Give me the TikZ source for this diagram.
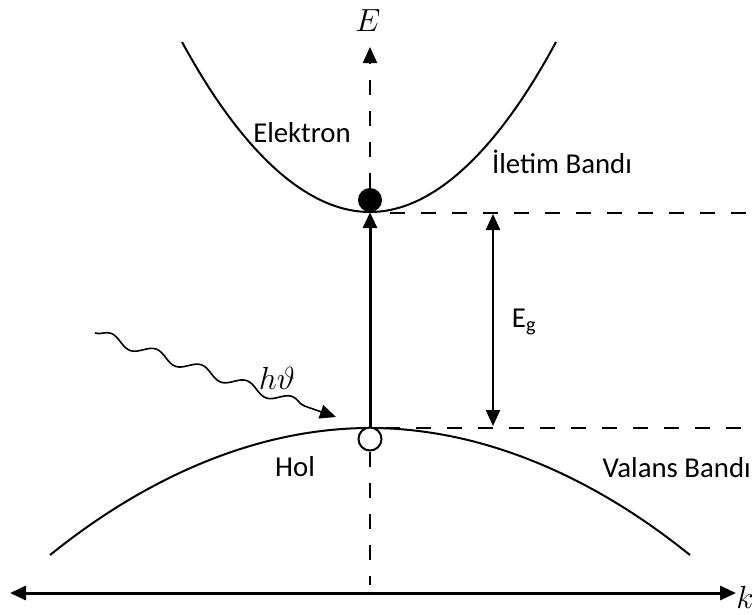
\RequirePackage{fix-cm}
\documentclass[tikz,border=0pt]{standalone}
\usepackage{fontspec}
\setmainfont{Carlito}
\usetikzlibrary{arrows.meta,decorations.pathmorphing}
\begin{document}
\begin{tikzpicture}[x=1pt,y=-1pt,
  curve/.style={line width=2pt},
  dashline/.style={line width=2pt, dash pattern=on 15pt off 16pt},
  tipend/.style={-{Triangle[length=16pt,width=14pt]}},
  lbl/.style={font=\fontsize{28.8}{34}\selectfont, inner sep=0pt},
  mathlbl/.style={font=\fontsize{32}{38}\selectfont, inner sep=0pt}]
\useasboundingbox (0,0) rectangle (752,614);
% coordinates
\coordinate (Etip) at (370,47);
\coordinate (Ebot) at (370,585);
\coordinate (c1) at (390,213);
\coordinate (c2) at (752,213);
\coordinate (v1) at (385,428);
\coordinate (v2) at (752,428);
\coordinate (g1) at (493,214);
\coordinate (g2) at (493,426);
\coordinate (kL) at (10,593);
\coordinate (kR) at (736,593);
\coordinate (w1) at (95,333);
\coordinate (w2) at (336,417);
% bands
\draw[curve] (182,42) parabola bend (370,212) (556,42);
\draw[curve] (50,555) parabola bend (370,428) (690,555);
% carriers
\node[circle,fill=black,inner sep=0pt,minimum size=24pt] (dot) at (370,200) {};
\node[circle,draw,fill=white,line width=2pt,inner sep=0pt,minimum size=23pt] (hole) at (370,439) {};
% axes
\draw[dashline,tipend] (dot.north) -- (Etip);
\draw[dashline] (hole.south) -- (Ebot);
\draw[line width=3pt,{Triangle[length=16pt,width=14pt]}-{Triangle[length=16pt,width=14pt]}] (kL) -- (kR);
% transition
\draw[line width=3pt,tipend] (hole.north) -- (dot.south);
% gap
\draw[dashline] (c1) -- (c2);
\draw[dashline] (v1) -- (v2);
\draw[line width=2.5pt,{Triangle[length=16pt,width=14pt]}-{Triangle[length=16pt,width=14pt]}] (g1) -- (g2);
% photon
\draw[line width=1.6pt,decorate,decoration={snake,segment length=48pt,amplitude=5pt,post length=14pt},tipend] (w1) -- (w2);
% labels
\node[mathlbl] (E) at (368,21) {$E$};
\node[mathlbl] (k) at (745,597) {$k$};
\node[mathlbl] (hv) at (277,378) {$h\vartheta$};
\node[lbl] (elek) at (302,133) {Elektron};
\node[lbl] (ilet) at (562,162) {İletim Bandı};
\node[lbl] (eg) at (524,322) {E\textsubscript{g}};
\node[lbl] (hol) at (295,467) {Hol};
\node[lbl,anchor=east] (val) at (751,468) {Valans Bandı};
\end{tikzpicture}
\end{document}
